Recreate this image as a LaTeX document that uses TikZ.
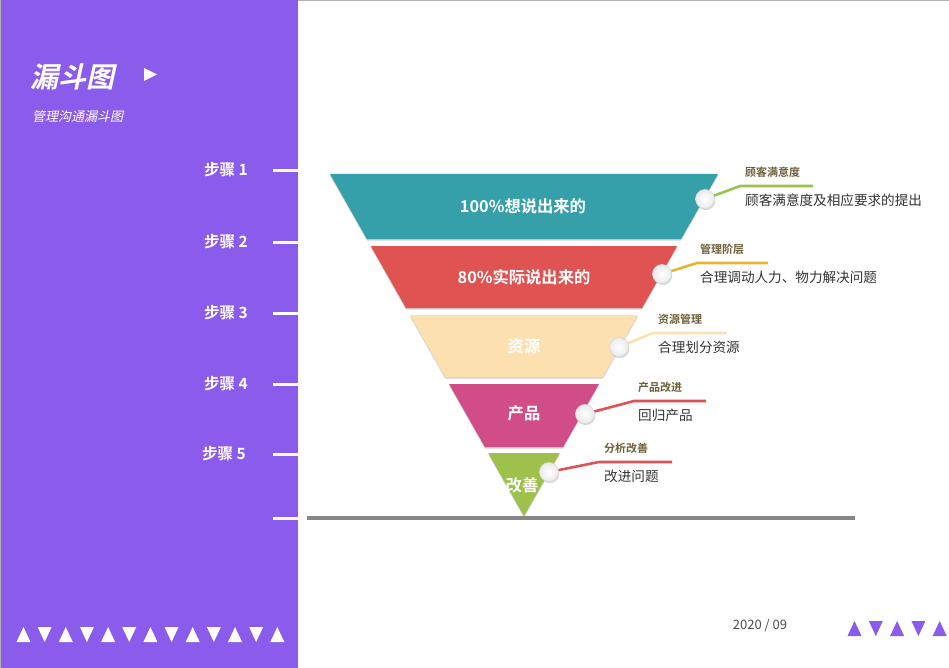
\documentclass[tikz,border=0pt]{standalone}
\usepackage{fontspec}
\setmainfont{Noto Sans CJK SC}[
  BoldFont={Noto Sans CJK SC Bold},
  ItalicFont={Noto Sans CJK SC}, ItalicFeatures={FakeSlant=0.22},
  BoldItalicFont={Noto Sans CJK SC Bold}, BoldItalicFeatures={FakeSlant=0.22}]
\usetikzlibrary{positioning,shadows}
\definecolor{fnpurple}{RGB}{139,92,236}
\definecolor{fnteal}{RGB}{54,160,170}
\definecolor{fnred}{RGB}{224,83,83}
\definecolor{fnpeach}{RGB}{253,224,176}
\definecolor{fnrose}{RGB}{209,77,136}
\definecolor{fngreen}{RGB}{157,193,74}
\definecolor{fngold}{RGB}{229,181,58}
\definecolor{fntagc}{RGB}{112,96,58}
\definecolor{fntext}{RGB}{51,51,51}
\tikzset{
  fn/.style={font=\fontsize{13.6}{15}\selectfont, text=fntext, inner sep=0pt},
  fnstep/.style={font=\bfseries\fontsize{15.5}{17}\selectfont, text=white, inner sep=0pt},
  fntick/.style={draw=white, line width=3pt},
  fnseg/.style={fill=#1, preaction={fill=black!18, transform canvas={yshift=-1.6pt}}},
  fnlayer/.style={font=\bfseries\fontsize{16.3}{18}\selectfont, text=white, inner sep=0pt},
  fnknob/.style={
    circle, minimum size=19pt, inner sep=0pt, draw=black!15, line width=0.6pt,
    inner color=white, outer color=black!8,
    drop shadow={shadow xshift=0.8pt, shadow yshift=-1.6pt, fill=black!30}
  },
  fnlead/.style={line width=2.6pt, draw=#1},
  fntag/.style={font=\bfseries\fontsize{11}{12}\selectfont, text=fntagc, inner sep=0pt},
  fndesc/.style={fn},
}

\begin{document}
\begin{tikzpicture}[x=1pt, y=-1pt]
  \useasboundingbox (0,0) rectangle (949,668);
  \fill[fnpurple] (0,0) rectangle (298,668);
  \draw[black!30, line width=1pt] (298,0.5) -- (949,0.5);
  \draw[black!30, line width=1pt] (0.5,0) -- (0.5,668);

  % title block
  \node[font=\bfseries\itshape\fontsize{28}{30}\selectfont, text=white, inner sep=0pt, anchor=west] (title) at (30,77) {漏斗图};
  \fill[white] (144,68) -- (157,74.5) -- (144,81) -- cycle;
  \node[font=\itshape\fontsize{13}{15}\selectfont, text=white, inner sep=0pt, anchor=west] (sub) at (32,117) {管理沟通漏斗图};

  % steps
  \node[fnstep] (s1) at (226,170) {步骤 1};
  \node[fnstep] (s2) at (226,242) {步骤 2};
  \node[fnstep] (s3) at (226,313) {步骤 3};
  \node[fnstep] (s4) at (226,384) {步骤 4};
  \node[fnstep] (s5) at (224,454) {步骤 5};
  \foreach \y in {171,242,313,384,454,518}
    \draw[fntick] (273,\y) -- (298,\y);

  % funnel
  \fill[fnseg=fnteal]  (330,174) -- (718,174) -- (681.1,239) -- (366.9,239) -- cycle;
  \fill[fnseg=fnred]   (370.8,246) -- (677.2,246) -- (642,308) -- (406,308) -- cycle;
  \fill[fnseg=fnpeach] (410,315) -- (638,315) -- (602.9,377) -- (445.1,377) -- cycle;
  \fill[fnseg=fnrose]  (449.1,384) -- (598.9,384) -- (563.1,447) -- (484.9,447) -- cycle;
  \fill[fnseg=fngreen] (488.3,453) -- (559.7,453) -- (524,516) -- cycle;
  \draw[line width=4pt, black!47] (307,518) -- (855,518);

  \node[fnlayer] (t1) at (523,206) {100\%想说出来的};
  \node[fnlayer] (t2) at (524,277) {80\%实际说出来的};
  \node[fnlayer] (t3) at (524,346) {资源};
  \node[fnlayer] (t4) at (524,413) {产品};
  \node[fnlayer] (t5) at (522,485) {改善};

  % knobs and leaders
  \node[fnknob] (k1) at (705,199) {};
  \node[fnknob] (k2) at (662,274) {};
  \node[fnknob] (k3) at (619,347) {};
  \node[fnknob] (k4) at (585,414) {};
  \node[fnknob] (k5) at (549,472) {};

  \coordinate (e1) at (740,186); \coordinate (f1) at (813,186);
  \coordinate (e2) at (697,263); \coordinate (f2) at (768,263);
  \coordinate (e3) at (653,333); \coordinate (f3) at (727,333);
  \coordinate (e4) at (634,401); \coordinate (f4) at (706,401);
  \coordinate (e5) at (599,462); \coordinate (f5) at (672,462);

  \draw[fnlead=fngreen] (k1) -- (e1) -- (f1);
  \draw[fnlead=fngold]  (k2) -- (e2) -- (f2);
  \draw[fnlead=fnpeach] (k3) -- (e3) -- (f3);
  \draw[fnlead=fnred]   (k4) -- (e4) -- (f4);
  \draw[fnlead=fnred]   (k5) -- (e5) -- (f5);

  \node[fntag, above right=8.5pt and 5pt of e1] (g1) {顾客满意度};
  \node[fndesc, below right=8pt and 5pt of e1] (d1) {顾客满意度及相应要求的提出};
  \node[fntag, above right=8.5pt and 3pt of e2] (g2) {管理阶层};
  \node[fndesc, below right=8pt and 3pt of e2] (d2) {合理调动人力、物力解决问题};
  \node[fntag, above right=8.5pt and 5pt of e3] (g3) {资源管理};
  \node[fndesc, below right=8pt and 5pt of e3] (d3) {合理划分资源};
  \node[fntag, above right=8.5pt and 4pt of e4] (g4) {产品改进};
  \node[fndesc, below right=8pt and 4pt of e4] (d4) {回归产品};
  \node[fntag, above right=8.5pt and 5pt of e5] (g5) {分析改善};
  \node[fndesc, below right=8pt and 5pt of e5] (d5) {改进问题};

  % footer
  \node[fn, text=black!70, font=\fontsize{13}{15}\selectfont] (date) at (760,625) {2020 / 09};
  \foreach \i in {0,2,...,12}
    \fill[white] ({16.5+21.15*\i},642) -- ++(14,0) -- ++(-7,-15) -- cycle;
  \foreach \i in {1,3,...,11}
    \fill[white] ({16.5+21.15*\i},627) -- ++(14,0) -- ++(-7,15) -- cycle;
  \foreach \i in {0,2,4}
    \fill[fnpurple] ({847.5+21.3*\i},636) -- ++(14,0) -- ++(-7,-15) -- cycle;
  \foreach \i in {1,3}
    \fill[fnpurple] ({847.5+21.3*\i},621) -- ++(14,0) -- ++(-7,15) -- cycle;
\end{tikzpicture}
\end{document}
